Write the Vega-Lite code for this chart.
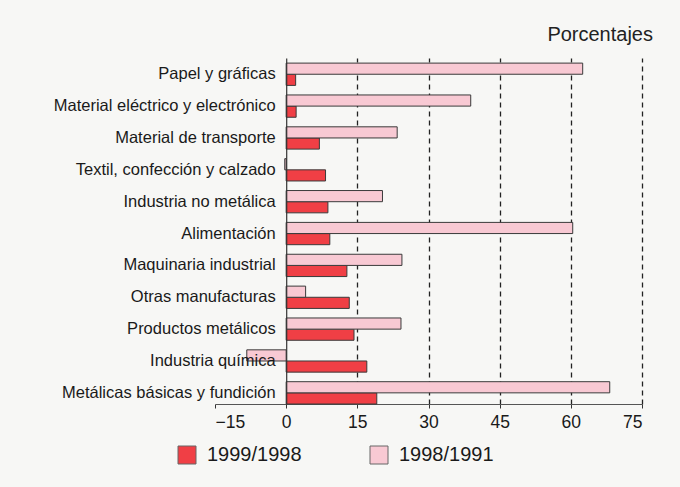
{
  "$schema": "https://vega.github.io/schema/vega-lite/v6.json",
  "width": 427,
  "height": 346,
  "autosize": {"type": "none"},
  "padding": {"left": 215, "top": 58, "right": 38, "bottom": 83},
  "background": "#f7f7f5",
  "title": {
    "text": "Porcentajes",
    "anchor": "end",
    "frame": "group",
    "dx": 11,
    "offset": 13,
    "fontSize": 20,
    "fontWeight": "normal",
    "font": "Liberation Sans",
    "color": "#222222"
  },
  "data": {
    "values": [
      {"sector": "Papel y gráficas", "serie": "1999/1998", "valor": 2.0},
      {"sector": "Papel y gráficas", "serie": "1998/1991", "valor": 62.5},
      {"sector": "Material eléctrico y electrónico", "serie": "1999/1998", "valor": 2.1},
      {"sector": "Material eléctrico y electrónico", "serie": "1998/1991", "valor": 38.9},
      {"sector": "Material de transporte", "serie": "1999/1998", "valor": 7.0},
      {"sector": "Material de transporte", "serie": "1998/1991", "valor": 23.4},
      {"sector": "Textil, confección y calzado", "serie": "1999/1998", "valor": 8.3},
      {"sector": "Textil, confección y calzado", "serie": "1998/1991", "valor": -0.3},
      {"sector": "Industria no metálica", "serie": "1999/1998", "valor": 8.8},
      {"sector": "Industria no metálica", "serie": "1998/1991", "valor": 20.3},
      {"sector": "Alimentación", "serie": "1999/1998", "valor": 9.2},
      {"sector": "Alimentación", "serie": "1998/1991", "valor": 60.4},
      {"sector": "Maquinaria industrial", "serie": "1999/1998", "valor": 12.8},
      {"sector": "Maquinaria industrial", "serie": "1998/1991", "valor": 24.4},
      {"sector": "Otras manufacturas", "serie": "1999/1998", "valor": 13.3},
      {"sector": "Otras manufacturas", "serie": "1998/1991", "valor": 4.1},
      {"sector": "Productos metálicos", "serie": "1999/1998", "valor": 14.3},
      {"sector": "Productos metálicos", "serie": "1998/1991", "valor": 24.2},
      {"sector": "Industria química", "serie": "1999/1998", "valor": 17.0},
      {"sector": "Industria química", "serie": "1998/1991", "valor": -8.3},
      {"sector": "Metálicas básicas y fundición", "serie": "1999/1998", "valor": 19.1},
      {"sector": "Metálicas básicas y fundición", "serie": "1998/1991", "valor": 68.2}
    ]
  },
  "mark": {"type": "bar", "stroke": "#3a3a3a", "strokeWidth": 1},
  "encoding": {
    "y": {
      "field": "sector",
      "type": "nominal",
      "sort": null,
      "scale": {"paddingInner": 0.3, "paddingOuter": 0.08, "align": 1},
      "axis": {
        "title": null,
        "offset": -71.2,
        "ticks": false,
        "labelPadding": 11,
        "labelFontSize": 16.5,
        "labelFont": "Liberation Sans",
        "labelColor": "#1a1a1a",
        "labelLimit": 300,
        "domainColor": "#333333",
        "domainWidth": 1.2,
        "zindex": 1
      }
    },
    "yOffset": {
      "field": "serie",
      "type": "nominal",
      "scale": {"domain": ["1998/1991", "1999/1998"], "paddingInner": 0, "paddingOuter": 0}
    },
    "x": {
      "field": "valor",
      "type": "quantitative",
      "scale": {"domain": [-15, 75], "nice": false, "zero": false},
      "axis": {
        "title": null,
        "values": [-15, 0, 15, 30, 45, 60, 75],
        "format": "d",
        "labelExpr": "replace(datum.label, '-', '−')",
        "labelFontSize": 17.5,
        "labelFont": "Liberation Sans",
        "labelColor": "#1a1a1a",
        "labelPadding": 5,
        "domainColor": "#555555",
        "tickColor": "#333333",
        "tickSize": 4,
        "grid": true,
        "gridColor": "#222222",
        "gridDash": [5, 4],
        "gridWidth": 1.3,
        "gridOpacity": {"condition": {"test": "datum.value <= 0", "value": 0}, "value": 1},
        "zindex": 0
      }
    },
    "color": {
      "field": "serie",
      "type": "nominal",
      "scale": {"domain": ["1999/1998", "1998/1991"], "range": ["#f03f45", "#f8c9d3"]},
      "legend": {
        "title": null,
        "orient": "none",
        "legendX": -38,
        "legendY": 387,
        "direction": "horizontal",
        "symbolType": "square",
        "symbolSize": 324,
        "symbolStrokeColor": "#666666",
        "symbolStrokeWidth": 1,
        "symbolOpacity": 1,
        "labelFontSize": 20,
        "labelFont": "Liberation Sans",
        "labelColor": "#1a1a1a",
        "labelOffset": 10,
        "columnPadding": 66
      }
    }
  },
  "config": {"view": {"stroke": null}}
}
